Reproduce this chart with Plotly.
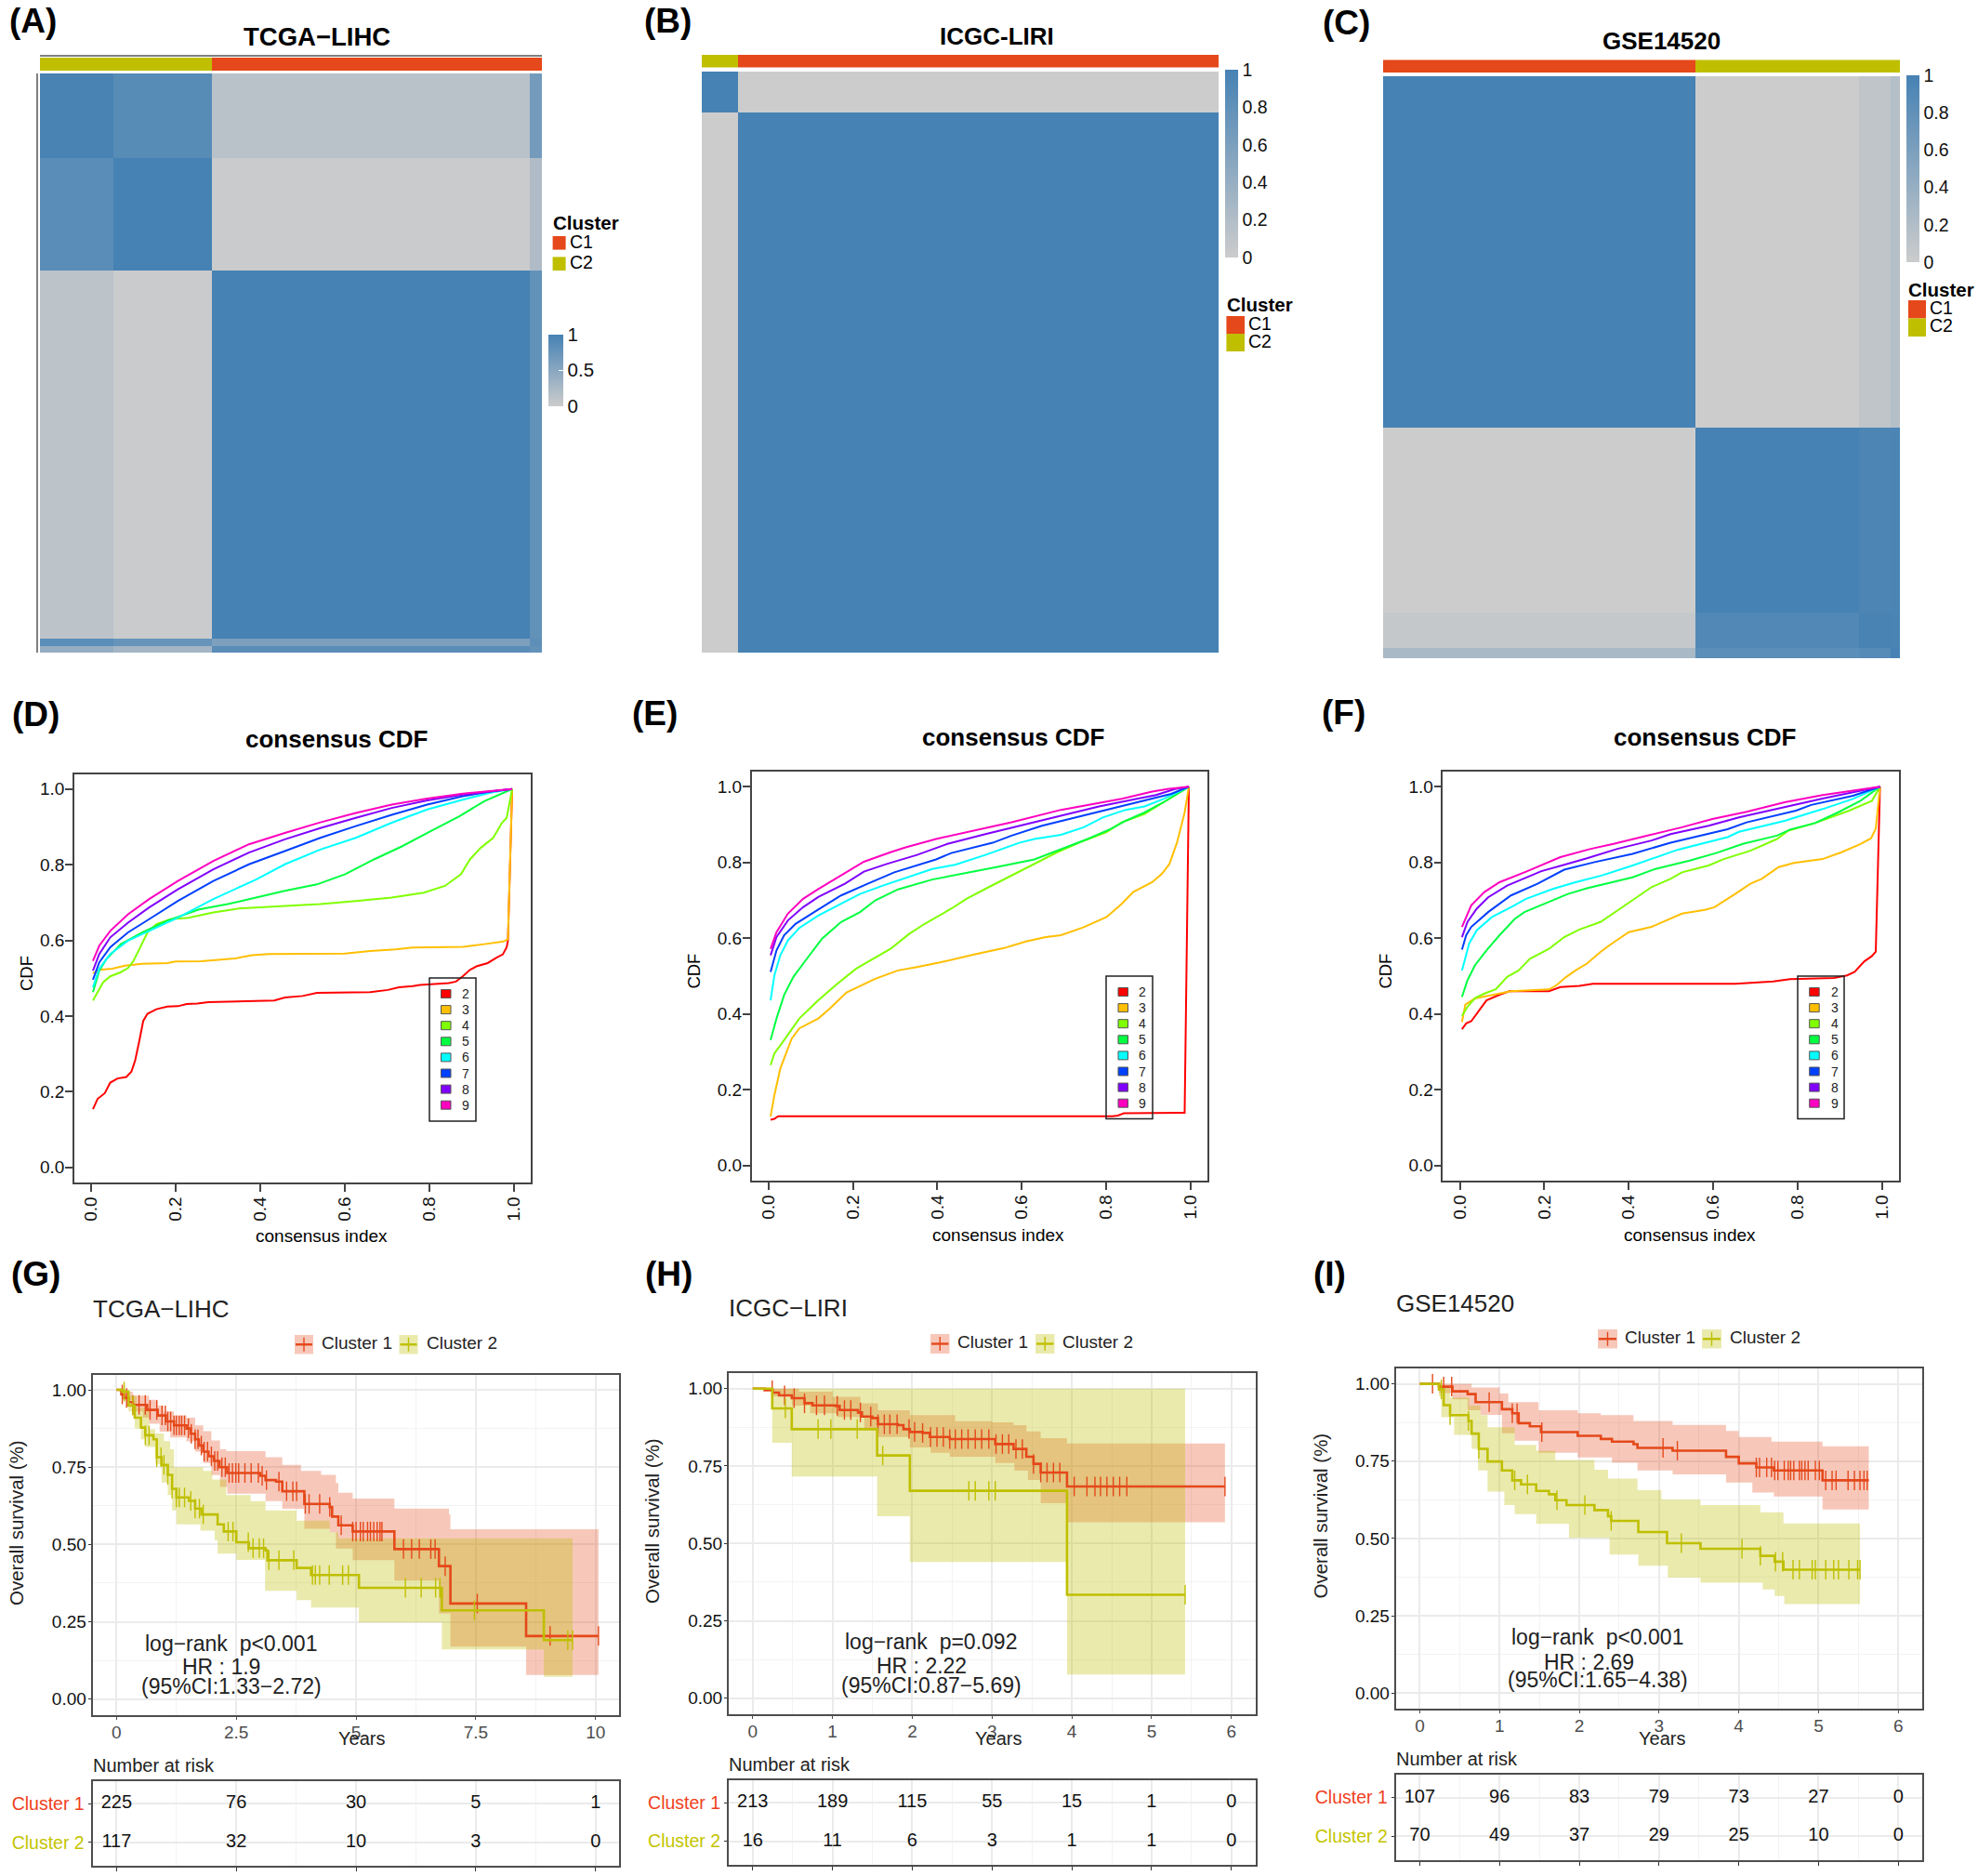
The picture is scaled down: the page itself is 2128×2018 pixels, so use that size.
import numpy as np
import plotly.graph_objects as go

W, H = 2128, 2018
FONT = "Liberation Sans"
ORANGE, OLIVE = "#E5481A", "#BFBF00"
ORANGE_T, OLIVE_T = "#F0401C", "#C4C400"
FILL1, FILL2 = "rgba(229,72,26,0.30)", "rgba(191,191,0,0.32)"
BLUE, GREY = "#4682B4", "#CCCCCC"
K_LABELS = ["2", "3", "4", "5", "6", "7", "8", "9"]
K_COLORS = ["#FF0000", "#FFBF00", "#80FF00", "#00FF40", "#00FFFF", "#0040FF", "#8000FF", "#FF00BF"]

# ---------- consensus matrices (block edges as sample fractions, values per block) ----------
A_EDGES_X = [0, .146, .342, .975, 1]
A_EDGES_Y = [0, .146, .341, .976, .988, 1]
A_Z = [[.98, .87, .14, .66],
       [.85, 1.0, .02, .22],
       [.12, .02, 1.0, .78],
       [.84, .76, .60, .82],
       [.42, .30, .85, .78]]
A_ANNOT_EDGES = [0, .342, 1]
A_ANNOT = [1, 0]
B_EDGES_X = [0, .07, 1]
B_EDGES_Y = [0, .07, 1]
B_Z = [[1.0, 0.0], [0.0, 1.0]]
B_ANNOT_EDGES = [0, .07, 1]
B_ANNOT = [1, 0]
C_EDGES_X = [0, .605, .921, .982, 1]
C_EDGES_Y = [0, .604, .921, .983, 1]
C_Z = [[1.0, 0.0, .09, .18],
       [0.0, 1.0, .95, .96],
       [.06, .92, .98, .97],
       [.26, .84, .88, 1.0]]
C_ANNOT_EDGES = [0, .605, 1]
C_ANNOT = [0, 1]

# ---------- consensus CDF curves ----------
D2X = [.004,.015,.032,.045,.062,.083,.095,.104,.114,.123,.133,.154,.18,.205,.226,.251,.277,.34,.433,.458,.5,.534,.66,.702,.728,.761,.778,.846,.863,.879,.896,.913,.938,.96,.974,.983,.986,.996]
D2Y = [.154,.181,.196,.224,.235,.239,.253,.283,.336,.387,.406,.418,.425,.426,.432,.433,.437,.439,.441,.449,.453,.461,.463,.469,.476,.479,.482,.487,.491,.505,.522,.532,.54,.555,.563,.582,.599,1.0]
D3X = [.004,.02,.05,.08,.12,.18,.2,.26,.34,.38,.42,.6,.66,.72,.76,.88,.93,.975,.986,.996]
D3Y = [.513,.522,.525,.533,.538,.54,.544,.545,.552,.561,.564,.565,.572,.576,.581,.583,.59,.597,.603,1.0]
D4X = [.004,.015,.028,.045,.07,.087,.1,.116,.133,.154,.188,.23,.289,.348,.458,.542,.626,.711,.787,.837,.875,.896,.922,.951,.972,.983,.996]
D4Y = [.441,.463,.489,.505,.516,.527,.546,.582,.621,.643,.656,.66,.674,.684,.691,.696,.704,.713,.726,.744,.775,.814,.845,.871,.911,.924,1.0]
D5X = [.004,.019,.036,.07,.121,.18,.255,.323,.39,.458,.534,.601,.669,.736,.804,.871,.93,.972,.996]
D5Y = [.463,.52,.551,.59,.621,.652,.682,.696,.713,.731,.748,.775,.814,.849,.889,.928,.968,.989,1.0]
D6X = [.004,.019,.045,.087,.137,.205,.289,.39,.458,.542,.626,.711,.795,.879,.947,.996]
D6Y = [.476,.525,.564,.599,.625,.66,.709,.761,.801,.84,.871,.911,.946,.972,.991,1.0]
D7X = [.004,.019,.045,.087,.137,.205,.289,.373,.458,.542,.626,.711,.795,.879,.947,.996]
D7Y = [.496,.542,.582,.621,.656,.704,.757,.801,.836,.871,.902,.932,.959,.981,.994,1.0]
D8X = [.004,.019,.045,.087,.137,.205,.289,.373,.458,.542,.626,.711,.795,.879,.996]
D8Y = [.52,.564,.608,.647,.687,.735,.788,.832,.867,.897,.924,.95,.97,.985,1.0]
D9X = [.004,.019,.045,.087,.137,.205,.289,.373,.458,.542,.626,.711,.795,.879,.996]
D9Y = [.546,.586,.625,.669,.709,.757,.81,.854,.884,.912,.937,.959,.975,.988,1.0]

E2X = [.005,.014,.023,.815,.828,.842,.986,.996]
E2Y = [.121,.123,.13,.13,.132,.138,.139,1.0]
E3X = [.005,.014,.028,.055,.073,.118,.145,.185,.253,.307,.352,.406,.487,.558,.612,.657,.693,.747,.801,.837,.864,.909,.932,.95,.968,.986,.996]
E3Y = [.129,.186,.256,.335,.362,.388,.414,.457,.493,.515,.524,.536,.557,.574,.592,.603,.608,.629,.656,.691,.722,.748,.77,.796,.853,.932,1.0]
E4X = [.005,.014,.037,.073,.118,.163,.208,.253,.289,.334,.37,.433,.469,.522,.576,.63,.684,.738,.801,.837,.891,.936,.996]
E4Y = [.265,.296,.331,.388,.436,.48,.52,.55,.572,.612,.638,.678,.704,.735,.766,.796,.827,.853,.88,.906,.928,.959,1.0]
E5X = [.005,.019,.037,.059,.091,.127,.172,.217,.253,.307,.388,.46,.54,.63,.684,.756,.81,.846,.891,.936,.996]
E5Y = [.331,.388,.45,.498,.546,.599,.643,.669,.7,.729,.755,.77,.788,.808,.831,.862,.888,.91,.932,.959,1.0]
E6X = [.005,.014,.028,.046,.073,.118,.172,.217,.271,.325,.388,.442,.514,.594,.63,.693,.747,.792,.846,.891,.936,.996]
E6Y = [.436,.502,.555,.594,.627,.66,.691,.717,.739,.759,.783,.794,.82,.852,.862,.873,.893,.919,.939,.948,.968,1.0]
E7X = [.005,.019,.037,.064,.118,.172,.235,.298,.397,.433,.531,.576,.648,.738,.828,.909,.954,.996]
E7Y = [.511,.568,.608,.638,.676,.713,.744,.774,.808,.825,.852,.871,.897,.922,.946,.968,.981,1.0]
E8X = [.005,.019,.046,.082,.118,.181,.226,.28,.352,.424,.514,.603,.693,.783,.873,.918,.963,.996]
E8Y = [.555,.603,.647,.682,.709,.744,.776,.796,.82,.849,.875,.899,.924,.948,.968,.978,.994,1.0]
E9X = [.005,.019,.046,.082,.118,.172,.226,.289,.325,.397,.487,.576,.693,.792,.837,.909,.945,.996]
E9Y = [.572,.616,.665,.704,.73,.766,.802,.827,.84,.862,.884,.906,.939,.96,.968,.987,.994,1.0]

F2X = [.005,.015,.027,.045,.063,.094,.117,.211,.238,.283,.315,.652,.742,.782,.886,.917,.935,.958,.976,.985,.995]
F2Y = [.36,.375,.381,.41,.436,.451,.46,.46,.471,.474,.48,.48,.486,.492,.495,.502,.511,.539,.553,.565,1.0]
F3X = [.005,.013,.036,.085,.121,.211,.229,.252,.274,.301,.333,.36,.4,.454,.495,.526,.58,.603,.652,.688,.715,.755,.791,.859,.904,.949,.974,.985,.995]
F3Y = [.379,.425,.441,.451,.46,.465,.476,.498,.515,.533,.564,.586,.616,.63,.65,.665,.675,.682,.717,.744,.757,.788,.799,.809,.827,.849,.864,.89,1.0]
F4X = [.005,.018,.036,.058,.085,.112,.139,.166,.211,.247,.283,.333,.373,.409,.454,.499,.526,.589,.625,.688,.751,.778,.841,.922,.976,.995]
F4Y = [.395,.419,.442,.454,.465,.498,.515,.546,.572,.603,.623,.643,.673,.7,.735,.757,.774,.792,.809,.831,.862,.884,.904,.937,.963,1.0]
F5X = [.005,.018,.036,.063,.094,.13,.153,.22,.256,.301,.364,.409,.463,.544,.607,.67,.751,.782,.841,.895,.949,.995]
F5Y = [.445,.489,.529,.568,.608,.651,.669,.7,.717,.732,.748,.761,.783,.805,.825,.849,.871,.887,.904,.932,.963,1.0]
F6X = [.005,.022,.04,.076,.121,.157,.22,.274,.337,.409,.517,.634,.661,.769,.859,.931,.995]
F6Y = [.515,.586,.621,.656,.682,.704,.73,.748,.766,.792,.834,.867,.881,.91,.941,.968,1.0]
F7X = [.005,.015,.027,.067,.121,.184,.247,.319,.409,.499,.634,.679,.796,.832,.931,.995]
F7Y = [.57,.608,.63,.669,.713,.744,.781,.801,.823,.852,.888,.906,.937,.952,.976,1.0]
F8X = [.005,.018,.04,.067,.112,.193,.247,.301,.373,.454,.499,.589,.661,.769,.859,.995]
F8Y = [.603,.643,.678,.708,.739,.777,.794,.811,.836,.858,.875,.897,.919,.946,.969,1.0]
F9X = [.005,.027,.058,.094,.157,.238,.31,.364,.436,.526,.598,.679,.769,.859,.995]
F9Y = [.63,.687,.722,.748,.776,.814,.836,.849,.869,.893,.915,.934,.959,.978,1.0]

# ---------- survival: TCGA-LIHC ----------
G1_T = [0,.1,.16,.25,.34,.64,.86,1.03,1.2,1.46,1.55,1.64,1.72,1.81,1.92,2.03,2.15,2.31,3.0,3.11,3.33,3.46,3.92,4.45,4.5,4.63,4.93,5.8,6.73,6.97,8.55,10.06]
G1_S = [1,.985,.974,.96,.951,.935,.917,.898,.885,.875,.858,.84,.82,.80,.785,.77,.75,.731,.722,.708,.703,.672,.631,.621,.59,.562,.542,.485,.43,.309,.204,.204]
G1_UT = [0,.16,.34,.68,.86,.99,1.2,1.46,1.64,1.81,1.98,2.16,2.29,3.11,3.46,3.85,4.27,4.58,4.63,4.93,5.8,6.94,6.97,10.06]
G1_U = [1,.994,.981,.968,.949,.93,.917,.91,.885,.866,.836,.808,.802,.782,.757,.738,.725,.699,.667,.648,.616,.597,.549,.549]
G1_LT = [0,.16,.34,.55,.68,.9,1.12,1.46,1.64,1.81,1.98,2.16,2.31,3.11,3.46,3.92,4.45,4.58,4.93,5.8,6.73,6.97,8.55,10.06]
G1_L = [1,.966,.93,.91,.89,.865,.846,.833,.80,.763,.724,.686,.664,.64,.615,.551,.539,.487,.449,.383,.277,.17,.078,.078]
G1_C = [.12,.21,.34,.47,.6,.7,.84,.95,1.02,1.07,1.13,1.2,1.25,1.31,1.36,1.42,1.5,1.56,1.64,1.7,1.77,1.83,1.9,1.98,2.05,2.11,2.2,2.27,2.35,2.42,2.49,2.55,2.68,2.81,2.96,3.04,3.13,3.39,3.55,3.68,3.76,3.94,4.02,4.24,4.45,4.69,4.93,5.0,5.09,5.15,5.24,5.3,5.37,5.44,5.5,5.54,5.99,6.16,6.32,6.56,6.65,6.86,7.53,9.05,10.06]
G2_T = [0,.12,.25,.38,.51,.6,.77,.84,.94,1.07,1.16,1.25,1.51,1.64,1.77,2.11,2.24,2.5,2.76,3.11,3.15,3.76,4.06,5.06,6.79,8.92,9.52]
G2_S = [1,.994,.949,.91,.878,.853,.84,.782,.757,.725,.68,.652,.641,.616,.597,.565,.542,.507,.488,.481,.449,.424,.401,.36,.287,.191,.191]
G2_UT = [0,.16,.25,.42,.68,.81,.99,1.12,1.2,1.81,2.0,2.29,2.8,3.11,3.76,4.45,4.63,9.52]
G2_U = [1,.994,.981,.942,.872,.859,.834,.808,.75,.738,.71,.66,.64,.61,.577,.539,.52,.511]
G2_LT = [0,.25,.38,.51,.6,.81,.94,1.07,1.16,1.25,1.75,2.05,2.11,2.5,3.1,3.76,4.06,5.06,6.79,8.92,9.52]
G2_L = [1,.93,.875,.84,.815,.76,.70,.66,.61,.565,.545,.513,.47,.45,.35,.32,.296,.248,.161,.072,.072]
G2_C = [.16,.34,.6,.68,.84,.93,.99,1.07,1.16,1.25,1.31,1.42,1.55,1.64,1.73,1.81,2.33,2.43,2.75,2.85,2.98,3.07,3.18,3.39,3.7,4.09,4.15,4.24,4.44,4.72,4.84,6.03,6.36,6.66,6.75,7.47,9.42,9.52]
G_TICKS = [0, 2.5, 5, 7.5, 10]
G_TICKTEXT = ["0", "2.5", "5", "7.5", "10"]
G_RISK1 = [225, 76, 30, 5, 1]
G_RISK2 = [117, 32, 10, 3, 0]

# ---------- survival: ICGC-LIRI ----------
H1_T = [0,.15,.25,.33,.49,.65,.75,1.04,1.09,1.32,1.37,1.5,1.57,1.82,1.89,1.97,2.13,2.22,2.47,3.04,3.27,3.43,3.52,3.61,3.94,5.92]
H1_S = [1,.995,.987,.978,.969,.953,.946,.944,.931,.923,.91,.905,.885,.882,.869,.86,.857,.844,.837,.821,.805,.78,.757,.729,.684,.684]
H1_UT = [0,.58,1.0,1.35,1.57,1.97,2.54,3.0,3.27,3.43,3.61,3.94,5.92]
H1_U = [1,.99,.974,.953,.93,.914,.895,.891,.882,.862,.84,.823,.823]
H1_LT = [0,.25,.49,.72,1.06,1.4,1.57,1.97,2.23,2.47,3.04,3.28,3.45,3.61,3.94,5.92]
H1_L = [1,.975,.945,.92,.908,.87,.844,.81,.793,.78,.76,.735,.705,.63,.568,.568]
H1_C = [.245,.4,.52,.65,.8,.9,1.06,1.15,1.23,1.35,1.48,1.57,1.65,1.72,1.81,1.96,2.03,2.13,2.23,2.31,2.39,2.47,2.54,2.62,2.7,2.79,2.87,2.96,3.05,3.13,3.21,3.3,3.38,3.52,3.61,3.69,3.77,3.85,4.03,4.19,4.29,4.36,4.44,4.52,4.6,4.69,5.92]
H2_T = [0,.245,.49,1.56,1.97,3.94,5.42]
H2_S = [1,.936,.869,.784,.67,.334,.334]
H2_UT = [0,5.42]
H2_U = [1,1]
H2_LT = [0,.245,.49,1.56,1.97,3.94,5.42]
H2_L = [1,.825,.716,.588,.44,.077,.077]
H2_C = [.41,.82,.98,1.31,1.63,2.71,2.79,2.96,3.04,5.42]
H_TICKS = [0, 1, 2, 3, 4, 5, 6]
H_TICKTEXT = ["0", "1", "2", "3", "4", "5", "6"]
H_RISK1 = [213, 189, 115, 55, 15, 1, 0]
H_RISK2 = [16, 11, 6, 3, 1, 1, 0]

# ---------- survival: GSE14520 ----------
I1_T = [0,.24,.41,.6,.7,1.03,1.16,1.24,1.38,1.52,1.98,2.27,2.41,2.68,2.73,3.17,3.84,4.0,4.22,4.44,5.05,5.63]
I1_S = [1,.991,.976,.967,.941,.918,.905,.873,.863,.844,.832,.822,.813,.805,.793,.784,.764,.743,.73,.72,.688,.688]
I1_UT = [0,.65,1.0,1.11,1.49,1.98,2.27,2.68,3.17,3.84,4.0,4.41,5.05,5.63]
I1_U = [1,.988,.969,.941,.915,.905,.899,.88,.867,.848,.828,.813,.798,.798]
I1_LT = [0,.24,.41,.6,.76,1.03,1.19,1.49,1.98,2.41,2.73,3.17,3.84,4.17,4.44,5.05,5.63]
I1_L = [1,.97,.95,.915,.9,.84,.816,.777,.762,.745,.72,.707,.681,.649,.636,.594,.594]
I1_C = [.16,.3,.4,.87,1.16,1.22,1.53,3.05,3.23,4.22,4.26,4.35,4.41,4.45,4.49,4.57,4.62,4.65,4.69,4.76,4.79,4.83,4.87,4.96,5.01,5.09,5.17,5.22,5.37,5.45,5.52,5.57,5.61]
I2_T = [0,.24,.3,.38,.61,.65,.74,.85,1.03,1.16,1.27,1.46,1.62,1.7,1.84,2.19,2.36,2.4,2.74,3.1,3.52,4.27,4.45,4.56,5.52]
I2_S = [1,.982,.931,.899,.88,.839,.79,.749,.72,.688,.675,.654,.643,.624,.608,.592,.572,.557,.521,.485,.467,.444,.425,.399,.399]
I2_UT = [0,.24,.38,.62,.76,.85,1.19,1.46,1.7,2.19,2.36,2.73,3.03,3.52,4.27,4.56,5.52]
I2_U = [1,.99,.956,.93,.899,.86,.803,.784,.754,.722,.694,.656,.626,.608,.585,.549,.549]
I2_LT = [0,.24,.27,.43,.65,.73,.85,1.06,1.19,1.46,1.87,2.38,2.74,3.11,3.52,4.3,4.45,4.57,5.52]
I2_L = [1,.96,.892,.835,.79,.72,.652,.608,.579,.547,.502,.448,.412,.374,.357,.335,.314,.288,.288]
I2_C = [.27,.38,.61,.74,1.19,1.35,1.72,2.07,2.4,3.28,4.04,4.27,4.46,4.55,4.68,4.76,4.92,4.96,5.09,5.19,5.25,5.38,5.49,5.52]
I_TICKS = [0, 1, 2, 3, 4, 5, 6]
I_TICKTEXT = ["0", "1", "2", "3", "4", "5", "6"]
I_RISK1 = [107, 96, 83, 79, 73, 27, 0]
I_RISK2 = [70, 49, 37, 29, 25, 10, 0]

SURV_TICKS = [0, .25, .5, .75, 1]
CDF_TICKS = [0, .2, .4, .6, .8, 1]
RISK_Y = [2, 1]
RISK_NAMES = ["Cluster 1", "Cluster 2"]


def px(x):
    return x / W


def py(y):
    return 1 - y / H


fig = go.Figure()
layout = {}
annotations = []
shapes = []
ax_i = [0]


def new_axes(x0, x1, y0, y1, xopts, yopts):
    ax_i[0] += 1
    n = ax_i[0]
    suf = "" if n == 1 else str(n)
    layout["xaxis" + suf] = dict(domain=[px(x0), px(x1)], anchor="y" + suf, **xopts)
    layout["yaxis" + suf] = dict(domain=[py(y1), py(y0)], anchor="x" + suf, **yopts)
    return "x" + suf, "y" + suf


def ann(text, x, y, size, anchor="center", bold=False, angle=0, color="#000000"):
    if anchor == "left":
        x -= 2
    annotations.append(dict(
        text=f"<b>{text}</b>" if bold else text, x=px(x), y=py(y), xref="paper", yref="paper",
        xanchor=anchor, yanchor="middle", showarrow=False, textangle=angle,
        font=dict(family=FONT, size=size, color=color)))


def rect(x0, y0, x1, y1, fill, line=None, lw=0):
    shapes.append(dict(type="rect", xref="paper", yref="paper", x0=px(x0), x1=px(x1),
                       y0=py(y0), y1=py(y1), fillcolor=fill,
                       line=dict(color=line or fill, width=lw)))


def seg(x0, y0, x1, y1, color, lw):
    shapes.append(dict(type="line", xref="paper", yref="paper", x0=px(x0), x1=px(x1),
                       y0=py(y0), y1=py(y1), line=dict(color=color, width=lw)))


OFF = dict(visible=False)


def heat_panel(title, title_xy, title_size, box, edges_x, edges_y, z, annot_edges, annot, annot_y, cb, cb_vals, cb_text, cb_ticks, cb_font):
    x0, x1, y0, y1 = box
    xa, ya = new_axes(x0, x1, y0, y1, dict(range=[0, 1], **OFF), dict(range=[1, 0], **OFF))
    fig.add_trace(go.Heatmap(
        x=edges_x, y=edges_y, z=z, xaxis=xa, yaxis=ya, zmin=0, zmax=1,
        colorscale=[[0, GREY], [1, BLUE]], hoverinfo="skip",
        colorbar=dict(x=px(cb[0]), xanchor="left", xpad=0, thickness=cb[1], lenmode="pixels", len=cb[2],
                      y=py(cb[3]), yanchor="middle", ypad=0, outlinewidth=0, tickvals=cb_vals, ticktext=cb_text,
                      ticks="inside" if cb_ticks else "", tickcolor="white", ticklen=5,
                      tickfont=dict(family=FONT, size=cb_font, color="#111111"))))
    xa2, ya2 = new_axes(x0, x1, annot_y[0], annot_y[1], dict(range=[0, 1], **OFF), dict(range=[0, 1], **OFF))
    fig.add_trace(go.Heatmap(
        x=annot_edges, y=[0, 1], z=[annot], xaxis=xa2, yaxis=ya2, zmin=0, zmax=1,
        colorscale=[[0, ORANGE], [1, OLIVE]], showscale=False, hoverinfo="skip"))
    ann(title, title_xy[0], title_xy[1], title_size, bold=True)


heat_panel("TCGA\u2212LIHC", (341, 39), 27.5, (43, 583, 79, 702), A_EDGES_X, A_EDGES_Y, A_Z, A_ANNOT_EDGES, A_ANNOT,
           (62, 76), (590, 16, 77, 398), [0, .5, 1], ["0", "0.5", "1"], True, 20.5)
heat_panel("ICGC-LIRI", (1072, 39), 26, (755, 1311, 77, 702), B_EDGES_X, B_EDGES_Y, B_Z, B_ANNOT_EDGES, B_ANNOT,
           (59, 72.5), (1317.5, 13.5, 202, 176), [0, .2, .4, .6, .8, 1], ["0", "0.2", "0.4", "0.6", "0.8", "1"], False, 19.5)
heat_panel("GSE14520", (1787, 44.5), 26, (1488, 2044, 82, 708), C_EDGES_X, C_EDGES_Y, C_Z, C_ANNOT_EDGES, C_ANNOT,
           (64.3, 78), (2050.7, 13.5, 201, 181.5), [0, .2, .4, .6, .8, 1], ["0", "0.2", "0.4", "0.6", "0.8", "1"], False, 19.5)

# dendrogram traces of panel A
seg(43, 60, 583, 60, "#555555", 1.5)
seg(40, 79, 40, 702, "#555555", 1.5)


def cluster_legend(tx, ty, sx, sw, s1, s2, s3, lx, l1, l2):
    ann("Cluster", tx, ty, 20.5, anchor="left", bold=True)
    rect(sx, s1, sx + sw, s2, ORANGE)
    rect(sx, s2, sx + sw, s3, OLIVE)
    ann("C1", lx, l1, 19.5, anchor="left")
    ann("C2", lx, l2, 19.5, anchor="left")


cluster_legend(594.6, 239.7, 594.6, 14, 254, 268.6, 268.6, 613, 260, 282)
rect(594.6, 276.4, 608.6, 291, OLIVE)
cluster_legend(1320, 328, 1319.4, 19.6, 340, 359, 378, 1343, 348, 367)
cluster_legend(2053, 311.8, 2053, 19, 323, 342.5, 362, 2075.5, 330.6, 350)


def cdf_panel(box, curves, title_xy, ylab_xy, xlab_xy, leg):
    x0, x1, y0, y1 = box
    common = dict(showgrid=False, zeroline=False, showline=True, mirror=True, linecolor="#444444", linewidth=1.5,
                  ticks="outside", ticklen=8, tickwidth=1.5, tickcolor="#444444",
                  tickfont=dict(family=FONT, size=19, color="#111111"))
    xa, ya = new_axes(x0, x1, y0, y1,
                      dict(range=[-.04, 1.04], tickvals=CDF_TICKS, ticktext=["0.0", "0.2", "0.4", "0.6", "0.8", "1.0"], tickangle=-90,
                           ticklabelstandoff=-2, **common),
                      dict(range=[-.04, 1.04], tickvals=CDF_TICKS, ticktext=["0.0", "0.2", "0.4", "0.6", "0.8", "1.0"],
                           ticklabelstandoff=-3, **common))
    for (cx, cy), color, lab in zip(curves, K_COLORS, K_LABELS):
        fig.add_trace(go.Scatter(x=cx, y=cy, mode="lines", name=lab, xaxis=xa, yaxis=ya,
                                 line=dict(color=color, width=2), showlegend=False, hoverinfo="skip"))
    ann("consensus CDF", title_xy[0], title_xy[1], 26, bold=True)
    ann("CDF", ylab_xy[0], ylab_xy[1], 18.5, angle=-90)
    ann("consensus index", xlab_xy[0], xlab_xy[1], 19)
    bx0, bx1, by0, by1, kx, ky, lx = leg
    rect(bx0, by0, bx1, by1, "rgba(0,0,0,0)", "#222222", 1.5)
    for i, (color, lab) in enumerate(zip(K_COLORS, K_LABELS)):
        yc = ky + i * 17.1
        rect(kx, yc - 4.5, kx + 10.5, yc + 4.5, color, "#555555", 1)
        ann(lab, lx, yc, 14, color="#222222")


cdf_panel((80, 571, 832.5, 1272),
          [(D2X, D2Y), (D3X, D3Y), (D4X, D4Y), (D5X, D5Y), (D6X, D6Y), (D7X, D7Y), (D8X, D8Y), (D9X, D9Y)],
          (362, 795), (28, 1047), (346, 1329), (462, 512, 1052, 1206, 474.5, 1069, 501))
cdf_panel((808.6, 1299, 830, 1270),
          [(E2X, E2Y), (E3X, E3Y), (E4X, E4Y), (E5X, E5Y), (E6X, E6Y), (E7X, E7Y), (E8X, E8Y), (E9X, E9Y)],
          (1090, 793), (747, 1044.6), (1073.5, 1328), (1190, 1240, 1050, 1203.6, 1203, 1067, 1229.4))
cdf_panel((1552.4, 2043, 830, 1270),
          [(F2X, F2Y), (F3X, F3Y), (F4X, F4Y), (F5X, F5Y), (F6X, F6Y), (F7X, F7Y), (F8X, F8Y), (F9X, F9Y)],
          (1834, 793), (1491, 1044.6), (1818, 1328), (1934, 1984, 1050, 1203.6, 1946.7, 1067, 1973.7))


def step_at(t, ts, ss):
    idx = np.searchsorted(ts, t, side="right") - 1
    return np.asarray(ss)[np.clip(idx, 0, len(ss) - 1)]


def midpoints(vals):
    return [(a + b) / 2 for a, b in zip(vals[:-1], vals[1:])]


def km_panel(box, table_y, xrange_, ticks, ticktext, arms, risk1, risk2, texts, leg):
    x0, x1, y0, y1 = box
    frame = dict(showline=True, mirror=True, linecolor="#4D4D4D", linewidth=2, zeroline=False,
                 showgrid=True, gridcolor="#EBEBEB", gridwidth=1.5)
    xminor = dict(tickvals=midpoints(ticks), showgrid=True, gridcolor="#F3F3F3", gridwidth=1, ticks="")
    xa, ya = new_axes(x0, x1, y0, y1,
                      dict(range=xrange_, tickvals=ticks, ticktext=ticktext, ticks="outside", ticklen=3, tickcolor="#4D4D4D",
                           ticklabelstandoff=-3,
                           tickfont=dict(family=FONT, size=19, color="#4D4D4D"), minor=xminor, **frame),
                      dict(range=[-.051, 1.049], tickvals=SURV_TICKS, tickformat=".2f", ticks="outside", ticklen=3, tickcolor="#333333",
                           ticklabelstandoff=-2,
                           tickfont=dict(family=FONT, size=19, color="#111111"),
                           minor=dict(tickvals=midpoints(SURV_TICKS), showgrid=True, gridcolor="#F3F3F3", gridwidth=1, ticks=""), **frame))
    for (t, s, ut, u, lt, l, c), fill, color, name in zip(arms, [FILL1, FILL2], [ORANGE, OLIVE], RISK_NAMES):
        fig.add_trace(go.Scatter(x=lt, y=l, mode="lines", line=dict(width=0, shape="hv"), xaxis=xa, yaxis=ya,
                                 showlegend=False, hoverinfo="skip", name=name + " lower"))
        fig.add_trace(go.Scatter(x=ut, y=u, mode="lines", line=dict(width=0, shape="hv"), fill="tonexty", fillcolor=fill,
                                 xaxis=xa, yaxis=ya, showlegend=False, hoverinfo="skip", name=name + " upper"))
    for (t, s, ut, u, lt, l, c), color, name in zip(arms, [ORANGE, OLIVE], RISK_NAMES):
        fig.add_trace(go.Scatter(x=t, y=s, mode="lines", line=dict(color=color, width=2.6, shape="hv"), xaxis=xa, yaxis=ya,
                                 showlegend=False, hoverinfo="skip", name=name))
        fig.add_trace(go.Scatter(x=c, y=step_at(c, t, s), mode="markers", xaxis=xa, yaxis=ya, showlegend=False, hoverinfo="skip",
                                 marker=dict(symbol="line-ns", size=15, color=color, line=dict(width=1.4, color=color)),
                                 name=name + " censored"))
    t0, t1 = table_y
    xb, yb = new_axes(x0, x1, t0, t1,
                      dict(range=xrange_, tickvals=ticks, ticktext=[""] * len(ticks), ticks="outside", ticklen=4, tickcolor="#333333",
                           minor=xminor, **frame),
                      dict(range=[.39, 2.58], tickvals=RISK_Y,
                           ticktext=[f'<span style="color:{ORANGE_T}">{RISK_NAMES[0]}</span>',
                                     f'<span style="color:{OLIVE_T}">{RISK_NAMES[1]}</span>'],
                           ticks="outside", ticklen=3, tickcolor="#333333", tickfont=dict(family=FONT, size=19.5), **frame))
    for yv, vals in zip(RISK_Y, [risk1, risk2]):
        fig.add_trace(go.Scatter(x=ticks, y=[yv] * len(ticks), text=[str(v) for v in vals], mode="text", xaxis=xb, yaxis=yb,
                                 textposition="middle center", textfont=dict(family=FONT, size=20, color="#111111"),
                                 showlegend=False, hoverinfo="skip", cliponaxis=False))
    for txt, tx, ty, size, anchor, angle in texts:
        ann(txt, tx, ty, size, anchor=anchor, angle=angle, color="#222222")
    (s1x, s2x, sy0, sy1, sw, l1x, l2x, ly) = leg
    for sx, fill, color, lx, name in [(s1x, FILL1, ORANGE, l1x, RISK_NAMES[0]), (s2x, FILL2, OLIVE, l2x, RISK_NAMES[1])]:
        rect(sx, sy0, sx + sw, sy1, fill)
        seg(sx + 1, (sy0 + sy1) / 2, sx + sw - 1, (sy0 + sy1) / 2, color, 2.4)
        seg(sx + sw / 2, (sy0 + sy1) / 2 - 7.5, sx + sw / 2, (sy0 + sy1) / 2 + 7.5, color, 1.4)
        ann(name, lx, ly, 19, anchor="left", color="#222222")


def km_texts(title, title_xy, ylab_xy, yrs_xy, nar_xy, l1, l1_xy, l2, l2_xy, l3, l3_xy):
    return [(title, title_xy[0], title_xy[1], 26, "left", 0),
            ("Overall survival (%)", ylab_xy[0], ylab_xy[1], 20.5, "center", -90),
            ("Years", yrs_xy[0], yrs_xy[1], 20, "center", 0),
            ("Number at risk", nar_xy[0], nar_xy[1], 20, "left", 0),
            (l1, l1_xy[0], l1_xy[1], 23, "center", 0),
            (l2, l2_xy[0], l2_xy[1], 23, "center", 0),
            (l3, l3_xy[0], l3_xy[1], 23, "center", 0)]


km_panel((99.6, 666, 1478.7, 1844.7), (1915.8, 2007.4), [-.5, 10.49], G_TICKS, G_TICKTEXT,
         [(G1_T, G1_S, G1_UT, G1_U, G1_LT, G1_L, G1_C), (G2_T, G2_S, G2_UT, G2_U, G2_LT, G2_L, G2_C)], G_RISK1, G_RISK2,
         km_texts("TCGA\u2212LIHC", (100, 1407.5), (17, 1638), (389, 1870), (100, 1899),
                  "log\u2212rank\u00a0\u00a0p&lt;0.001", (248, 1767.6), "HR : 1.9", (237.5, 1793),
                  "(95%CI:1.33\u22122.72)", (249, 1813.6)),
         (317, 429.5, 1436, 1456.5, 20, 346, 458.5, 1444))
km_panel((784, 1350.5, 1477.4, 1843.8), (1915, 2006), [-.3, 6.3], H_TICKS, H_TICKTEXT,
         [(H1_T, H1_S, H1_UT, H1_U, H1_LT, H1_L, H1_C), (H2_T, H2_S, H2_UT, H2_U, H2_LT, H2_L, H2_C)], H_RISK1, H_RISK2,
         km_texts("ICGC\u2212LIRI", (784, 1406.7), (701, 1636), (1074, 1870), (784, 1897.5),
                  "log\u2212rank\u00a0\u00a0p=0.092", (1001, 1766), "HR : 2.22", (991.6, 1792),
                  "(95%CI:0.87\u22125.69)", (1002, 1813)),
         (1001, 1114, 1435, 1456, 20.5, 1030, 1142.5, 1443))
km_panel((1501.7, 2068, 1472.3, 1838.3), (1909.4, 2001), [-.3, 6.3], I_TICKS, I_TICKTEXT,
         [(I1_T, I1_S, I1_UT, I1_U, I1_LT, I1_L, I1_C), (I2_T, I2_S, I2_UT, I2_U, I2_LT, I2_L, I2_C)], I_RISK1, I_RISK2,
         km_texts("GSE14520", (1502, 1402), (1419.5, 1631), (1788, 1870), (1502, 1892),
                  "log\u2212rank\u00a0\u00a0p&lt;0.001", (1718, 1761), "HR : 2.69", (1709.6, 1787.6),
                  "(95%CI:1.65\u22124.38)", (1719.4, 1807)),
         (1719, 1831, 1430, 1450.5, 21, 1748, 1860.5, 1438))

for lab, lx, ly in [("(A)", 35, 22), ("(B)", 718, 22), ("(C)", 1448, 25),
                    ("(D)", 38, 769), ("(E)", 704, 767), ("(F)", 1445, 766),
                    ("(G)", 38, 1370), ("(H)", 719, 1370), ("(I)", 1430, 1370)]:
    ann(lab, lx, ly, 37, bold=True)

fig.update_layout(width=W, height=H, autosize=False, margin=dict(l=0, r=0, t=0, b=0, pad=0),
                  paper_bgcolor="white", plot_bgcolor="white", showlegend=False,
                  annotations=annotations, shapes=shapes, font=dict(family=FONT), **layout)
fig.write_html("out.html", config={"displayModeBar": False},
               post_script="document.body.style.margin='0';document.body.style.overflow='hidden';")
